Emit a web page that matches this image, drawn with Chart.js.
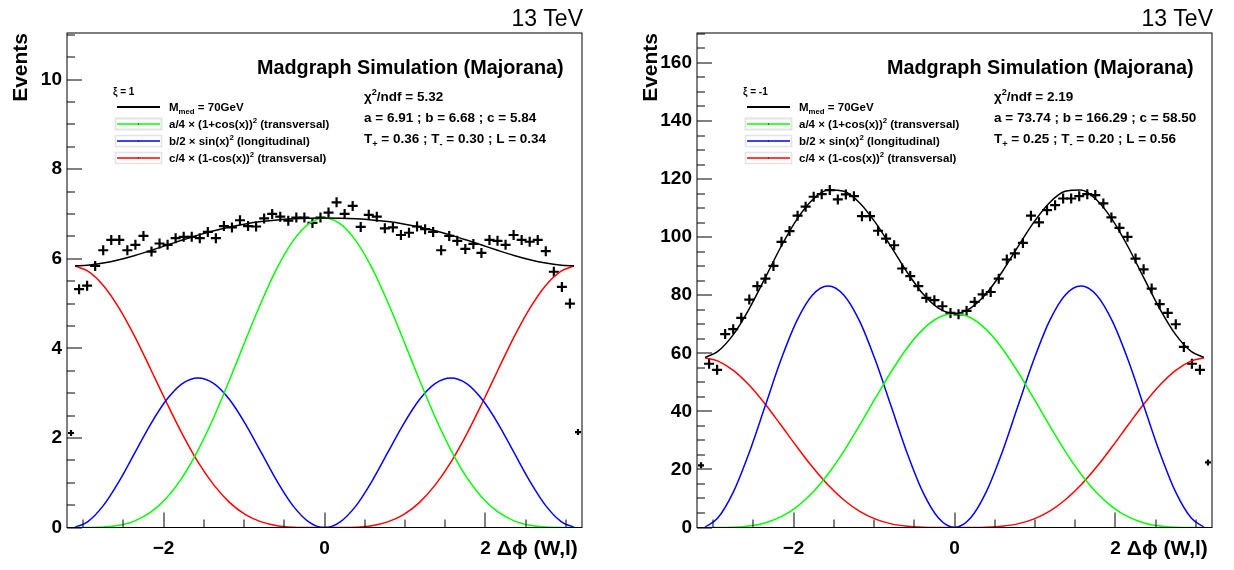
<!DOCTYPE html>
<html>
<head>
<meta charset="utf-8">
<script src="https://cdn.jsdelivr.net/npm/chart.js@4.4.1/dist/chart.umd.min.js"></script>
<style>
  body { margin: 0; background: #fff; }
  .pad { position: absolute; top: 0; width: 604px; height: 570px; }
</style>
</head>
<body>
<div class="pad" style="left:0"><canvas id="padL" width="604" height="570"></canvas></div>
<div class="pad" style="left:630px"><canvas id="padR" width="604" height="570"></canvas></div>
<script>
// histogram bin centres (64 bins, -3.2 .. 3.2)
const binCenters = [
  -3.15, -3.05, -2.95, -2.85, -2.75, -2.65, -2.55, -2.45, -2.35, -2.25, -2.15, -2.05, -1.95, -1.85, -1.75, -1.65,
  -1.55, -1.45, -1.35, -1.25, -1.15, -1.05, -0.95, -0.85, -0.75, -0.65, -0.55, -0.45, -0.35, -0.25, -0.15, -0.05,
  0.05, 0.15, 0.25, 0.35, 0.45, 0.55, 0.65, 0.75, 0.85, 0.95, 1.05, 1.15, 1.25, 1.35, 1.45, 1.55,
  1.65, 1.75, 1.85, 1.95, 2.05, 2.15, 2.25, 2.35, 2.45, 2.55, 2.65, 2.75, 2.85, 2.95, 3.05, 3.15
];
// events, xi = 1
const eventsL = [
  2.11, 5.32, 5.40, 5.84, 6.19, 6.42, 6.42, 6.19, 6.31, 6.51, 6.16, 6.34, 6.31, 6.46, 6.49, 6.49,
  6.46, 6.60, 6.46, 6.73, 6.70, 6.86, 6.73, 6.72, 6.90, 7.00, 6.94, 6.85, 6.92, 6.92, 6.80, 6.92,
  7.03, 7.26, 7.00, 7.18, 6.71, 6.98, 6.94, 6.68, 6.70, 6.53, 6.58, 6.72, 6.66, 6.60, 6.19, 6.51,
  6.40, 6.22, 6.33, 6.13, 6.42, 6.40, 6.31, 6.53, 6.42, 6.38, 6.42, 6.17, 5.71, 5.37, 5.00, 2.13
];
// events, xi = -1
const eventsR = [
  21.4, 56.4, 54.3, 66.6, 68.3, 72.2, 78.5, 83.1, 85.7, 90.1, 98.4, 102.1, 107.4, 110.5, 113.9, 114.8,
  116.2, 113.0, 114.7, 114.1, 107.2, 107.2, 102.2, 99.5, 97.2, 89.2, 86.6, 83.1, 79.1, 78.3, 76.2, 73.9,
  73.4, 74.6, 77.7, 80.3, 81.1, 85.7, 92.3, 94.4, 98.0, 107.4, 105.1, 109.3, 111.0, 113.3, 113.3, 114.1,
  114.8, 114.5, 111.6, 106.8, 103.2, 100.1, 92.6, 88.9, 82.3, 76.9, 73.9, 70.0, 62.2, 56.4, 54.3, 22.4
];

// sample points along the fitted curves
const curveX = [
  -3.1, -2.945, -2.749, -2.553, -2.356, -2.160, -1.963, -1.767, -1.571, -1.374, -1.178, -0.982, -0.785, -0.589, -0.393, -0.196, 0,
  0.196, 0.393, 0.589, 0.785, 0.982, 1.178, 1.374, 1.571, 1.767, 1.963, 2.160, 2.356, 2.553, 2.749, 2.945, 3.1
];
const fitL = [5.841, 5.856, 5.903, 5.977, 6.073, 6.183, 6.300, 6.417, 6.528, 6.626, 6.710, 6.777, 6.829, 6.867, 6.891, 6.906, 6.910,
  6.906, 6.891, 6.867, 6.829, 6.777, 6.710, 6.626, 6.528, 6.417, 6.300, 6.183, 6.073, 5.977, 5.903, 5.856, 5.841];
const aTermL = [0, 0.001, 0.010, 0.049, 0.148, 0.341, 0.658, 1.119, 1.728, 2.467, 3.303, 4.180, 5.034, 5.795, 6.394, 6.778, 6.910,
  6.778, 6.394, 5.795, 5.034, 4.180, 3.303, 2.467, 1.728, 1.119, 0.658, 0.341, 0.148, 0.049, 0.010, 0.001, 0];
const bTermL = [0.006, 0.127, 0.489, 1.031, 1.670, 2.309, 2.851, 3.213, 3.340, 3.213, 2.851, 2.309, 1.670, 1.031, 0.489, 0.127, 0,
  0.127, 0.489, 1.031, 1.670, 2.309, 2.851, 3.213, 3.340, 3.213, 2.851, 2.309, 1.670, 1.031, 0.489, 0.127, 0.006];
const cTermL = [5.835, 5.728, 5.404, 4.897, 4.255, 3.533, 2.791, 2.085, 1.460, 0.946, 0.556, 0.288, 0.125, 0.041, 0.008, 0.001, 0,
  0.001, 0.008, 0.041, 0.125, 0.288, 0.556, 0.946, 1.460, 2.085, 2.791, 3.533, 4.255, 4.897, 5.404, 5.728, 5.835];

const fitR = [58.59, 60.55, 66.42, 75.24, 85.77, 96.51, 105.96, 112.81, 116.22, 115.79, 111.78, 104.98, 96.54, 87.92, 80.49, 75.50, 73.74,
  75.50, 80.49, 87.92, 96.54, 104.98, 111.78, 115.79, 116.22, 112.81, 105.96, 96.51, 85.77, 75.24, 66.42, 60.55, 58.59];
const aTermR = [0, 0.01, 0.11, 0.52, 1.58, 3.64, 7.03, 11.94, 18.44, 26.33, 35.24, 44.61, 53.72, 61.84, 68.23, 72.33, 73.74,
  72.33, 68.23, 61.84, 53.72, 44.61, 35.24, 26.33, 18.44, 11.94, 7.03, 3.64, 1.58, 0.52, 0.11, 0.01, 0];
const bTermR = [0.14, 3.16, 12.18, 25.66, 41.57, 57.48, 70.97, 79.98, 83.15, 79.98, 70.97, 57.48, 41.57, 25.66, 12.18, 3.16, 0,
  3.16, 12.18, 25.66, 41.57, 57.48, 70.97, 79.98, 83.15, 79.98, 70.97, 57.48, 41.57, 25.66, 12.18, 3.16, 0.14];
const cTermR = [58.45, 57.38, 54.13, 49.06, 42.62, 35.39, 27.96, 20.89, 14.63, 9.48, 5.57, 2.89, 1.25, 0.42, 0.08, 0.01, 0,
  0.01, 0.08, 0.42, 1.25, 2.89, 5.57, 9.48, 14.63, 20.89, 27.96, 35.39, 42.62, 49.06, 54.13, 57.38, 58.45];

// tick labels
const xTicks = [-2, 0, 2];
const yTicksL = [0, 2, 4, 6, 8, 10];
const yTicksR = [0, 20, 40, 60, 80, 100, 120, 140, 160];

// legend / fit text
const legendRows = [
  ['#000000', [['M'], ['med', 'sub'], [' = 70GeV']]],
  ['#00ff00', [['a/4 \u00d7 (1+cos(x))'], ['2', 'sup'], [' (transversal)']]],
  ['#0000ff', [['b/2 \u00d7 sin(x)'], ['2', 'sup'], [' (longitudinal)']]],
  ['#ff0000', [['c/4 \u00d7 (1-cos(x))'], ['2', 'sup'], [' (transversal)']]]
];
const xiLabels = ['\u03be = 1', '\u03be = -1'];
const chi2 = ['5.32', '2.19'];
const fitParams = ['a = 6.91 ; b = 6.68 ; c = 5.84', 'a = 73.74 ; b = 166.29 ; c = 58.50'];
const fractions = [['0.36', '0.30', '0.34'], ['0.25', '0.20', '0.56']];

const FONT = "'Liberation Sans', Arial, Helvetica, sans-serif";

function drawRich(ctx, parts, x, y, size) {
  parts.forEach(([text, kind]) => {
    const s = kind ? size * 0.68 : size;
    ctx.font = `bold ${s}px ${FONT}`;
    const dy = kind === 'sup' ? -size * 0.42 : kind === 'sub' ? size * 0.3 : 0;
    ctx.fillText(text, x, y + dy);
    x += ctx.measureText(text).width;
  });
}

// ROOT-style frame, inward ticks and the text boxes
const rootPad = {
  id: 'rootPad',
  afterDraw(chart, args, opts) {
    const { ctx, chartArea: a, scales: { x, y } } = chart;
    ctx.save();
    ctx.strokeStyle = '#000';
    ctx.lineWidth = 1;
    ctx.strokeRect(a.left, a.top, a.right - a.left, a.bottom - a.top);

    ctx.beginPath();
    for (let k = Math.ceil(x.min / 0.5); k * 0.5 <= x.max; k++) {
      const px = Math.round(x.getPixelForValue(k * 0.5));
      ctx.moveTo(px, a.bottom);
      ctx.lineTo(px, a.bottom - (k % 4 === 0 ? 15 : 8));
    }
    for (let k = 0; k * opts.yMinor <= y.max; k++) {
      const py = Math.round(y.getPixelForValue(k * opts.yMinor));
      ctx.moveTo(a.left, py);
      ctx.lineTo(a.left + (k % 4 === 0 ? 15 : 8), py);
    }
    ctx.stroke();

    ctx.fillStyle = '#000';
    ctx.textBaseline = 'alphabetic';
    ctx.textAlign = 'right';
    ctx.font = `23px ${FONT}`;
    ctx.fillText('13 TeV', a.right + 1, 26);

    ctx.textAlign = 'left';
    ctx.font = `bold 19.8px ${FONT}`;
    ctx.fillText('Madgraph Simulation (Majorana)', a.left + 190, 74);

    ctx.font = `bold 10px ${FONT}`;
    ctx.fillText(xiLabels[opts.idx], a.left + 46, 95);

    legendRows.forEach(([color, parts], i) => {
      const ly = 107 + i * 17;
      if (i > 0) {
        ctx.strokeStyle = '#e4e4e4';
        ctx.strokeRect(a.left + 48.5, ly - 5.5, 46, 11);
      }
      ctx.strokeStyle = color;
      ctx.lineWidth = i === 0 ? 2 : 1.5;
      ctx.beginPath();
      ctx.moveTo(a.left + 50, ly);
      ctx.lineTo(a.left + 93, ly);
      ctx.stroke();
      if (i > 0) ctx.fillRect(a.left + 71, ly - 0.5, 1, 1);
      drawRich(ctx, parts, a.left + 102, ly + 4, 11.5);
    });

    const f = fractions[opts.idx];
    drawRich(ctx, [['\u03c7'], ['2', 'sup'], ['/ndf = ' + chi2[opts.idx]]], a.left + 297, 101, 13.5);
    drawRich(ctx, [[fitParams[opts.idx]]], a.left + 297, 122, 13.5);
    drawRich(ctx, [['T'], ['+', 'sub'], [' = ' + f[0] + ' ; T'], ['-', 'sub'], [' = ' + f[1] + ' ; L = ' + f[2]]], a.left + 297, 143, 13.5);
    ctx.restore();
  }
};

function toXY(xs, ys) {
  return xs.map((v, i) => ({ x: v, y: ys[i] }));
}

function curve(xs, ys, color, width, order) {
  return {
    data: toXY(xs, ys), showLine: true, borderColor: color, borderWidth: width,
    pointRadius: 0, cubicInterpolationMode: 'monotone', order: order
  };
}

function makePad(canvasId, idx, events, fit, aTerm, bTerm, cTerm, yMax, yTicks, yMinor) {
  const tickFont = { family: FONT, size: 19, weight: 'bold' };
  const titleFont = { family: FONT, size: 21, weight: 'bold' };
  return new Chart(document.getElementById(canvasId), {
    type: 'scatter',
    data: {
      datasets: [
        {
          data: toXY(binCenters, events), pointStyle: 'cross', borderColor: '#000', borderWidth: 2.2,
          pointRadius: c => (c.dataIndex === 0 || c.dataIndex === binCenters.length - 1) ? 3 : 5,
          order: 5
        },
        curve(curveX, cTerm, '#ff0000', 1.5, 4),
        curve(curveX, bTerm, '#0000ff', 1.5, 3),
        curve(curveX, aTerm, '#00ff00', 1.5, 2),
        curve(curveX, fit, '#000000', 1.5, 1)
      ]
    },
    options: {
      responsive: false,
      animation: false,
      devicePixelRatio: 1,
      layout: { padding: { top: 33, right: 22, left: 0, bottom: 0 } },
      plugins: {
        legend: { display: false },
        tooltip: { enabled: false },
        rootPad: { idx: idx, yMinor: yMinor }
      },
      scales: {
        x: {
          type: 'linear', min: -3.2, max: 3.2,
          afterFit: s => { s.height = 42.5; },
          afterBuildTicks: s => { s.ticks = xTicks.map(v => ({ value: v })); },
          grid: { display: false, drawTicks: false },
          border: { display: false },
          ticks: { font: tickFont, color: '#000', padding: 10, maxRotation: 0,
                   callback: v => (v < 0 ? '\u2212' + Math.abs(v) : String(v)) },
          title: { display: true, text: '\u0394\u03d5 (W,l)\u2009', align: 'end', font: titleFont, color: '#000',
                   padding: { top: 0, bottom: 8 } }
        },
        y: {
          type: 'linear', min: 0, max: yMax,
          afterFit: s => { s.width = 67; },
          afterBuildTicks: s => { s.ticks = yTicks.map(v => ({ value: v })); },
          grid: { display: false, drawTicks: false },
          border: { display: false },
          ticks: { font: tickFont, color: '#000', padding: 5 },
          title: { display: true, text: 'Events', align: 'end', font: titleFont, color: '#000',
                   padding: { top: 9, bottom: 0 } }
        }
      }
    },
    plugins: [rootPad]
  });
}

makePad('padL', 0, eventsL, fitL, aTermL, bTermL, cTermL, 11.04, yTicksL, 0.5);
makePad('padR', 1, eventsR, fitR, aTermR, bTermR, cTermR, 170.3, yTicksR, 5);
</script>
</body>
</html>
